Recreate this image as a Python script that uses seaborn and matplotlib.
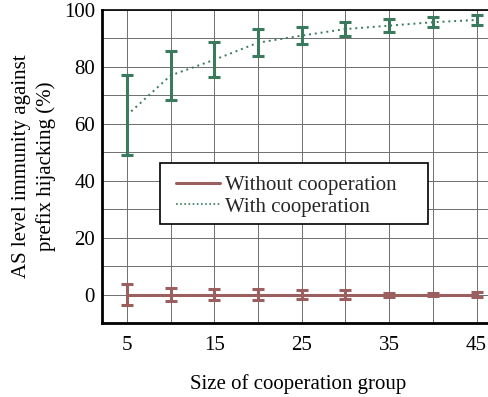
import numpy as np
import pandas as pd
import matplotlib
matplotlib.use("Agg")
import matplotlib.pyplot as plt
from matplotlib.patches import Rectangle
import seaborn as sns

group_size = [5, 10, 15, 20, 25, 30, 35, 40, 45]
with_coop = [63.0, 77.0, 82.5, 88.5, 91.0, 93.3, 94.5, 95.7, 96.5]
with_coop_err = [14.0, 8.5, 6.2, 4.8, 3.0, 2.6, 2.3, 1.8, 1.6]
without_coop = [0, 0, 0, 0, 0, 0, 0, 0, 0]
without_coop_err = [3.7, 2.3, 2.0, 2.0, 1.5, 1.5, 0.7, 0.6, 0.8]

x_ticks = [5, 10, 15, 20, 25, 30, 35, 40, 45]
x_tick_labels = ["5", "", "15", "", "25", "", "35", "", "45"]
y_ticks = [0, 10, 20, 30, 40, 50, 60, 70, 80, 90, 100]
y_tick_labels = ["0", "", "20", "", "40", "", "60", "", "80", "", "100"]

green = "#3b7a5c"
brown = "#9b5f5f"

sns.set_theme(style="white")
plt.rcParams["font.family"] = ["Liberation Serif", "DejaVu Serif"]

df = pd.DataFrame({
    "size": group_size * 2,
    "immunity": without_coop + with_coop,
    "series": ["Without cooperation"] * len(group_size) + ["With cooperation"] * len(group_size),
})

fig = plt.figure(figsize=(4.89, 3.97), dpi=100)
ax = fig.add_axes([102 / 489, 74 / 397, 392 / 489, 313 / 397])

sns.lineplot(data=df, x="size", y="immunity", hue="series", style="series",
             palette={"Without cooperation": brown, "With cooperation": green},
             dashes={"Without cooperation": "", "With cooperation": (1, 2)},
             ax=ax, legend=False)
lines = ax.get_lines()
lines[0].set_linewidth(2.2)
lines[1].set_linewidth(1.4)

ax.errorbar(group_size, without_coop, yerr=without_coop_err, fmt="none",
            ecolor=brown, elinewidth=2.2, capsize=4.5, capthick=2.2, zorder=3)
ax.errorbar(group_size, with_coop, yerr=with_coop_err, fmt="none",
            ecolor=green, elinewidth=2.2, capsize=4.5, capthick=2.2, zorder=3)

ax.set_xlim(2.15, 47)
ax.set_ylim(-10, 100)
ax.set_xticks(x_ticks)
ax.set_xticklabels(x_tick_labels)
ax.set_yticks(y_ticks)
ax.set_yticklabels(y_tick_labels)
ax.tick_params(axis="both", labelsize=15, length=0, colors="black")
ax.tick_params(axis="x", pad=9)
ax.tick_params(axis="y", pad=5)
ax.grid(True, color="#6e6e6e", linewidth=0.7)

for side in ["left", "bottom", "top"]:
    ax.spines[side].set_visible(True)
    ax.spines[side].set_color("black")
ax.spines["left"].set_linewidth(2.0)
ax.spines["bottom"].set_linewidth(2.0)
ax.spines["top"].set_linewidth(1.2)
ax.spines["right"].set_visible(False)

ax.set_xlabel("Size of cooperation group", fontsize=15, labelpad=14, color="black")
ax.set_ylabel("AS level immunity against\nprefix hijacking (%)", fontsize=15,
              labelpad=6, color="black", linespacing=1.3)

# legend box, wider than its entries
ax.add_patch(Rectangle((0.148, 0.316), 0.684, 0.195, transform=ax.transAxes,
                       facecolor="white", edgecolor="black", linewidth=1.2,
                       zorder=5))
handles = [
    plt.Line2D([], [], color=brown, linewidth=2.2),
    plt.Line2D([], [], color=green, linewidth=1.2, linestyle=(0, (1, 1.5))),
]
leg = ax.legend(handles, ["Without cooperation", "With cooperation"],
                loc="upper left", bbox_to_anchor=(0.189, 0.472), fontsize=15,
                frameon=False, borderpad=0, labelspacing=0.1,
                handlelength=2.1, handletextpad=0.25, borderaxespad=0)
leg.set_zorder(6)

fig.savefig("out.png", dpi=100)
